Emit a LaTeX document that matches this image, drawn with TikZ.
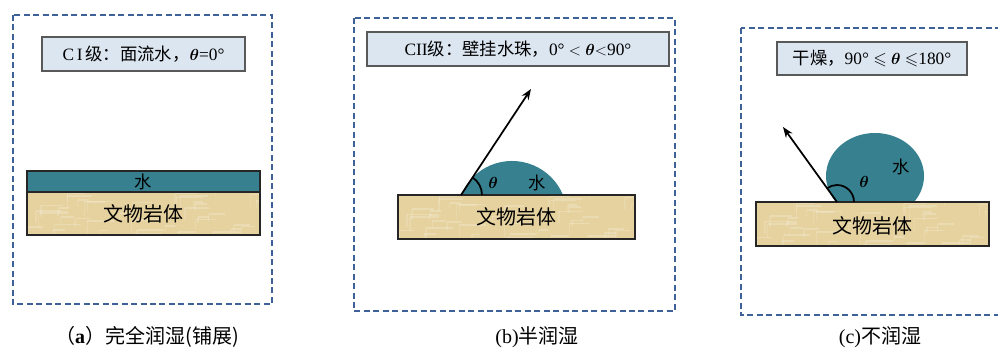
\documentclass[tikz,border=0pt]{standalone}
\usepackage{amsmath,amssymb}
\usepackage{fontspec}
\setmainfont{Liberation Serif}
\newfontfamily\cjk{Noto Sans CJK SC}
\usetikzlibrary{arrows.meta}
\definecolor{frameblue}{HTML}{3E6298}
\definecolor{labelfill}{HTML}{DCE6F1}
\definecolor{watercol}{HTML}{36808F}
\definecolor{rockcol}{HTML}{E6D29E}
\newcommand{\bth}{$\boldsymbol{\theta}$}
% sandstone slab: tan fill with faint pale grain, dark outline
\newcommand{\rockslab}[4]{%
  \fill[rockcol] (#1,#2) rectangle (#3,#4);
  \begin{scope}
    \clip (#1,#2) rectangle (#3,#4);
    \pgfmathsetseed{7}
    \foreach \k in {1,...,40}{
      \pgfmathsetmacro{\gx}{#1+rnd*(#3-#1)}
      \pgfmathsetmacro{\gy}{#4+rnd*(#2-#4)}
      \pgfmathsetmacro{\gl}{8+rnd*22}
      \draw[white, opacity=0.22, line width=1.2pt] (\gx,\gy) -- ++(\gl,0);
      \draw[white, opacity=0.15, line width=1pt] (\gx,\gy) -- ++(0,-\gl/2);
    }
  \end{scope}
  \draw[rockedge] (#1,#2) rectangle (#3,#4);}
\tikzset{
  panel/.style={draw=frameblue, line width=1.6pt, dash pattern=on 4.5pt off 2.6pt},
  labelbox/.style={draw=black!65, fill=labelfill, line width=0.8pt},
  rockedge/.style={draw=black!85, line width=1.5pt},
  water/.style={fill=watercol},
  waterlayer/.style={draw=black!85, fill=watercol, line width=1pt},
  ray/.style={-{Stealth[length=8pt,width=6pt]}, line width=1.3pt},
  anglearc/.style={line width=1.3pt},
  labeltext/.style={font=\fontsize{13}{15}\selectfont, inner sep=0pt},
  rocktext/.style={font=\fontsize{15}{17}\selectfont\cjk, inner sep=0pt},
  watertext/.style={font=\fontsize{13}{15}\selectfont, inner sep=0pt},
  watercjk/.style={font=\fontsize{13}{15}\selectfont\cjk, inner sep=0pt},
  caption/.style={font=\fontsize{15}{17}\selectfont, inner sep=0pt}
}
\begin{document}
\begin{tikzpicture}[x=0.75pt, y=0.75pt]
\useasboundingbox (0,0) rectangle (998,353);
\clip (0,0) rectangle (998,353);

% ---------- (a) complete wetting ----------
\draw[panel] (13,338) rectangle (272,49);
\draw[labelbox] (42,316) rectangle (245,282);
\node[labeltext] (la) at (143.5,299) {C\,I\,{\cjk 级：面流水，}\bth{}=0°};
\draw[waterlayer] (27,182) rectangle (260,161);
\rockslab{27}{161}{260}{118}
\node[watercjk] (wa) at (143.5,171.5) {水};
\node[rocktext] (ra) at (143.5,139.5) {文物岩体};
\node[caption] (ca) at (147,16) {{\cjk （}\textbf{a}{\cjk ）完全润湿(铺展)}};

% ---------- (b) partial wetting ----------
\draw[panel] (354,335) rectangle (675,42);
\draw[labelbox] (367,321) rectangle (669,287);
\node[labeltext] (lb) at (518,304) {CII{\cjk 级：壁挂水珠，}0° $<$ \bth{}$<$90°};
\fill[water] (461,158) arc[start angle=157.4, end angle=22.6, radius=55.25] -- cycle;
\rockslab{398}{158}{635}{114}
\coordinate (pb) at (461,158);
\coordinate (tb) at (531,264);
\draw[ray] (pb) -- (tb);
\draw[anglearc] ([shift={(21,0)}]pb) arc[start angle=0, end angle=56.6, radius=21];
\node[watertext] (thb) at (493,170) {\bth};
\node[watercjk] (wb) at (537,170) {水};
\node[rocktext] (rb) at (516.5,136) {文物岩体};
\node[caption] (cb) at (537,16) {(b){\cjk 半润湿}};

% ---------- (c) non-wetting ----------
\draw[panel] (741,325) rectangle (1010,38);
\draw[labelbox] (777,311) rectangle (967,278);
\node[labeltext] (lc) at (872,294.5) {{\cjk 干燥，}90° $\leqslant$ \bth{} $\leqslant$180°};
\begin{scope}
  \clip (700,151) rectangle (998,260);
  \fill[water] (875,177) ellipse[x radius=49, y radius=43];
\end{scope}
\rockslab{756}{151}{989}{107}
\coordinate (pc) at (837,151);
\coordinate (tc) at (783,226);
\draw[ray] (pc) -- (tc);
\draw[anglearc] ([shift={(17,0)}]pc) arc[start angle=0, end angle=125.8, radius=17];
\node[watertext] (thc) at (864,171) {\bth};
\node[watercjk] (wc) at (901,186) {水};
\node[rocktext] (rc) at (872.5,127) {文物岩体};
\node[caption] (cc) at (880,16) {(c){\cjk 不润湿}};
\end{tikzpicture}
\end{document}
